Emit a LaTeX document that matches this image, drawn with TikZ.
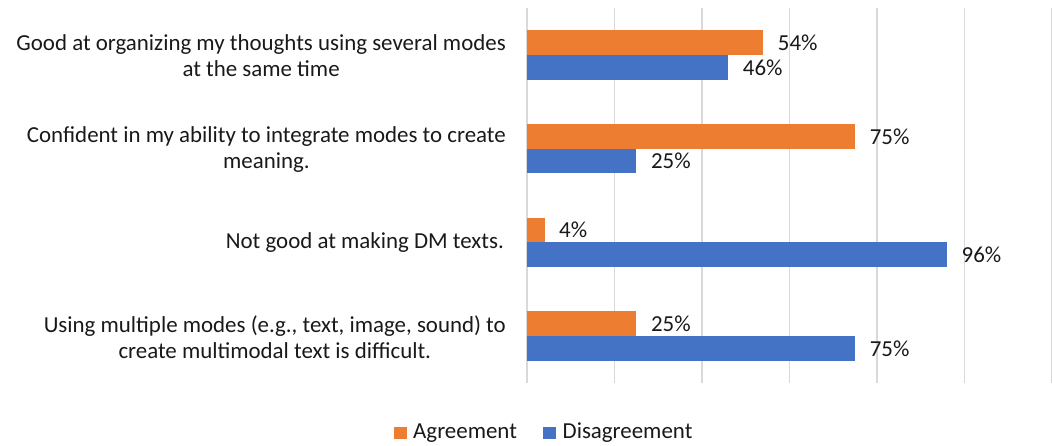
\documentclass[tikz,border=0pt]{standalone}
\usepackage{fontspec}
\setmainfont{Carlito}
\definecolor{agree}{HTML}{ED7D31}
\definecolor{disagree}{HTML}{4472C4}
\definecolor{gridc}{HTML}{D9D9D9}
\begin{document}
\begin{tikzpicture}[x=1pt,y=-1pt,
  txt/.style={inner sep=0pt,font=\fontsize{22.9}{26}\selectfont,text=black!90},
  catlabel/.style={txt,anchor=east,align=center},
  pctlabel/.style={txt,anchor=west},
  gridline/.style={draw=gridc,line width=1.5pt},
  agreebar/.style={fill=agree},
  disbar/.style={fill=disagree}]
\useasboundingbox (0,0) rectangle (1052,446);
% gridlines
\foreach \k in {0,...,6} {
  \draw[gridline] (527+87.5*\k,8.3) -- (527+87.5*\k,383);
}
% data: center y, agree %, disagree %
\def\unit{4.375}
\def\bh{24.7}
\foreach \c/\a/\d/\n in {55.1/54/46/1,148.8/75/25/2,242.5/4/96/3,336.2/25/75/4} {
  \fill[agreebar] (527,\c-\bh) rectangle (527+\a*\unit,\c);
  \fill[disbar] (527,\c) rectangle (527+\d*\unit,\c+\bh);
  \node[pctlabel] (a\n) at (527+\a*\unit+14.5,\c-\bh/2) {\a\%};
  \node[pctlabel] (d\n) at (527+\d*\unit+14.5,\c+\bh/2) {\d\%};
}
% category labels
\node[catlabel] (c1) at (506,56) {Good at organizing my thoughts using several modes\\at the same time};
\node[catlabel] (c2) at (506,149.5) {Confident in my ability to integrate modes to create\\meaning.};
\node[catlabel] (c3) at (504,243) {Not good at making DM texts.};
\node[catlabel] (c4) at (506,337) {Using multiple modes (e.g., text, image, sound) to\\create multimodal text is difficult.};
% legend
\fill[agreebar] (394,426.5) rectangle (406.7,439);
\node[pctlabel] (la) at (413,433) {Agreement};
\fill[disbar] (543,426.5) rectangle (555.7,439);
\node[pctlabel] (ld) at (562.5,433) {Disagreement};
\end{tikzpicture}
\end{document}
